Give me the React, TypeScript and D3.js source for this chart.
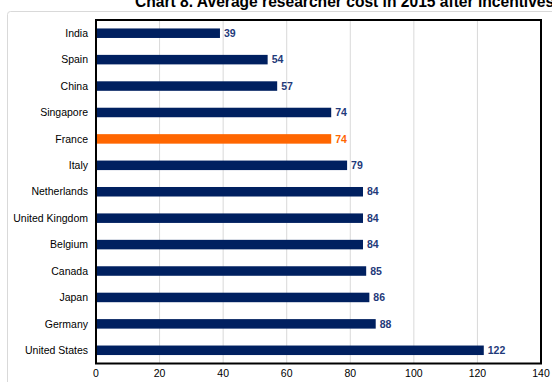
import React from "react";
import * as d3 from "d3";

const countries = ["India", "Spain", "China", "Singapore", "France", "Italy", "Netherlands", "United Kingdom", "Belgium", "Canada", "Japan", "Germany", "United States"];
const costs = [39, 54, 57, 74, 74, 79, 84, 84, 84, 85, 86, 88, 122];
const highlight = ["France"];
const xTicks = [0, 20, 40, 60, 80, 100, 120, 140];
const title = "Chart 8. Average researcher cost in 2015 after incentives";

const W = 552;
const H = 382;
const left = 96;
const right = 541;
const top = 20;
const bottom = 363.5;
const NAVY = "#002060";
const ORANGE = "#FF6600";
const FONT = "'Liberation Sans', Arial, sans-serif";

export default function App() {
  const x = d3.scaleLinear().domain([0, 140]).range([left, right]);
  const y = d3.scaleBand<string>().domain(countries).range([top, bottom]).paddingInner(0.64).paddingOuter(0.32);
  return (
    <svg width={W} height={H} style={{ position: "absolute", left: 0, top: 0 }} fontFamily={FONT}>
      <rect x={0} y={0} width={W} height={H} fill="#fff" />
      <rect x={7.5} y={11.5} width={700} height={500} rx={3} fill="none" stroke="#d9d9d9" />
      <text x={135} y={6.5} fontSize={15.6} fontWeight="bold" fill="#000">{title}</text>
      {xTicks.map((t) => (
        <g key={t}>
          {t > 0 && t < 140 && (
            <line x1={x(t)} x2={x(t)} y1={top} y2={bottom} stroke="#d9d9d9" strokeWidth={1} />
          )}
          <text x={x(t)} y={377} fontSize={10.5} textAnchor="middle" fill="#000">{t}</text>
        </g>
      ))}
      {countries.map((c, i) => {
        const col = highlight.includes(c) ? ORANGE : NAVY;
        const yc = (y(c) ?? 0) + y.bandwidth() / 2;
        return (
          <g key={c}>
            <rect x={x(0)} y={y(c)} width={x(costs[i]) - x(0)} height={y.bandwidth()} fill={col} />
            <text x={88} y={yc} dy="0.35em" fontSize={10.5} textAnchor="end" fill="#000">{c}</text>
            <text x={x(costs[i]) + 4} y={yc} dy="0.35em" fontSize={10.5} fontWeight="bold" fill={highlight.includes(c) ? ORANGE : "#1F3A7A"}>{costs[i]}</text>
          </g>
        );
      })}
      <rect x={left} y={top} width={right - left} height={bottom - top} fill="none" stroke="#000" strokeWidth={2} />
    </svg>
  );
}
